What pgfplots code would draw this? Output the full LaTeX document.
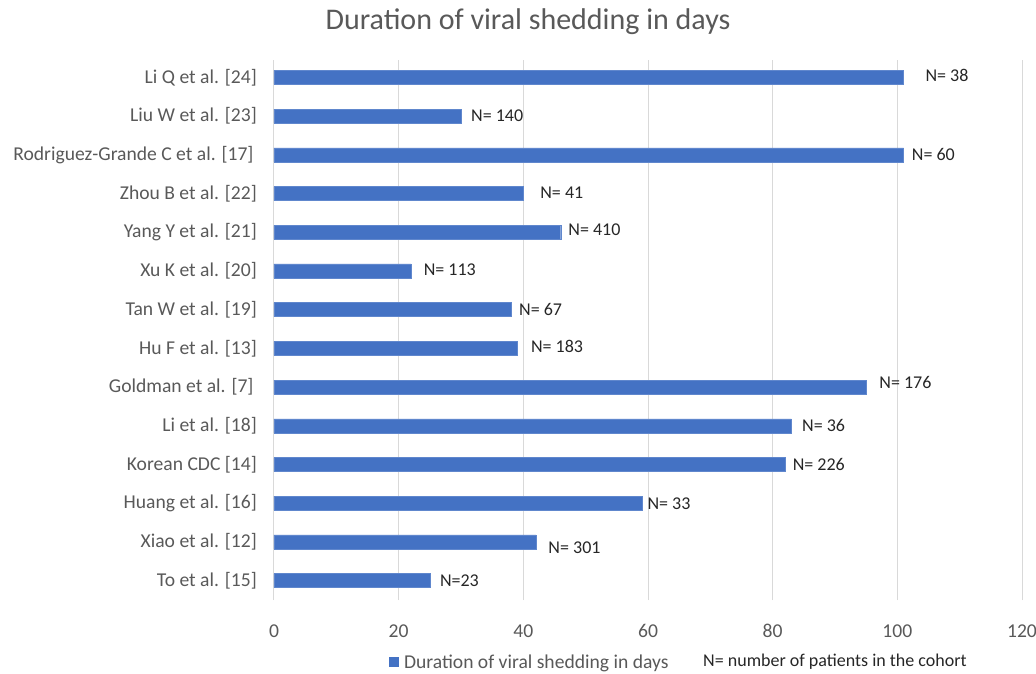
\documentclass[border=0pt]{standalone}
\usepackage{fontspec}
\setmainfont{Carlito}
\usepackage{pgfplots}
\pgfplotsset{compat=1.18}
\definecolor{barblue}{HTML}{4472C4}
\definecolor{txtgray}{HTML}{595959}
\definecolor{gridgray}{HTML}{D9D9D9}
\begin{document}
\begin{tikzpicture}
\path[use as bounding box] (-274bp,-74bp) rectangle (762bp,600bp);
\begin{axis}[
  scale only axis, width=748bp, height=540bp,
  xmin=0, xmax=120, ymin=-0.5, ymax=13.45,
  xtick={0,20,...,120},
  ytick={0,...,13},
  yticklabels={To et al. [15], Xiao et al. [12], Huang et al. [16], Korean CDC [14], Li et al. [18], Goldman et al. [7]\,, Hu F et al. [13], Tan W et al. [19], Xu K et al. [20], Yang Y et al. [21], Zhou B et al. [22], Rodriguez-Grande C et al. [17]\,, Liu W et al. [23], Li Q et al. [24]},
  major tick length=0,
  axis line style={draw=none},
  xmajorgrids, grid style={gridgray, line width=1bp},
  ymajorgrids=false,
  /pgf/number format/assume math mode=true,
  ticklabel style={font=\fontsize{19.6bp}{22bp}\selectfont, text=txtgray},
  yticklabel style={anchor=east, inner sep=0pt, xshift=-17bp},
  xticklabel style={anchor=base, inner sep=0pt, yshift=-37bp},
  legend style={draw=none, at={(0.153,-0.115)}, anchor=west, inner sep=0pt,
    font=\fontsize{19.6bp}{22bp}\selectfont, text=txtgray,
    /tikz/every even column/.append style={column sep=0pt}},
  legend image code/.code={\fill[barblue] (0bp,-4.5bp) rectangle (9bp,4.5bp);},
  legend cell align=left,
  clip=false,
]
\addplot[xbar, bar width=14bp, fill=barblue, draw=barblue!85!white] coordinates {
  (25,0) (42,1) (59,2) (82,3) (83,4) (95,5) (39,6) (38,7) (22,8) (46,9) (40,10) (101,11) (30,12) (101,13)
};
\addlegendentry{\hspace{4bp}Duration of viral shedding in days}
\addplot[only marks, mark=none, nodes near coords, point meta=explicit symbolic,
  nodes near coords style={anchor=west, inner sep=0pt, text=black!85,
    font=\fontsize{18bp}{20bp}\selectfont}, forget plot]
  table[col sep=comma, x=x, y=y, meta=label] {
x,y,label
26.6,0,N=23
44.0,0.85,N= 301
59.9,2,N= 33
83.2,3,N= 226
84.7,4,N= 36
97.1,5.12,N= 176
41.2,6.05,N= 183
39.3,7,N= 67
24.0,8.04,N= 113
47.2,9.07,N= 410
42.7,10.02,N= 41
102.3,11,N= 60
31.6,12.02,N= 140
104.5,13.04,N= 38
};
\end{axis}
\node[text=txtgray, font=\fontsize{30bp}{34bp}\selectfont] at (254bp,578bp) {Duration of viral shedding in days};
\node[anchor=west, inner sep=0pt, text=black!85, font=\fontsize{18bp}{20bp}\selectfont] at (429bp,-62bp) {N= number of patients in the cohort};
\end{tikzpicture}
\end{document}
